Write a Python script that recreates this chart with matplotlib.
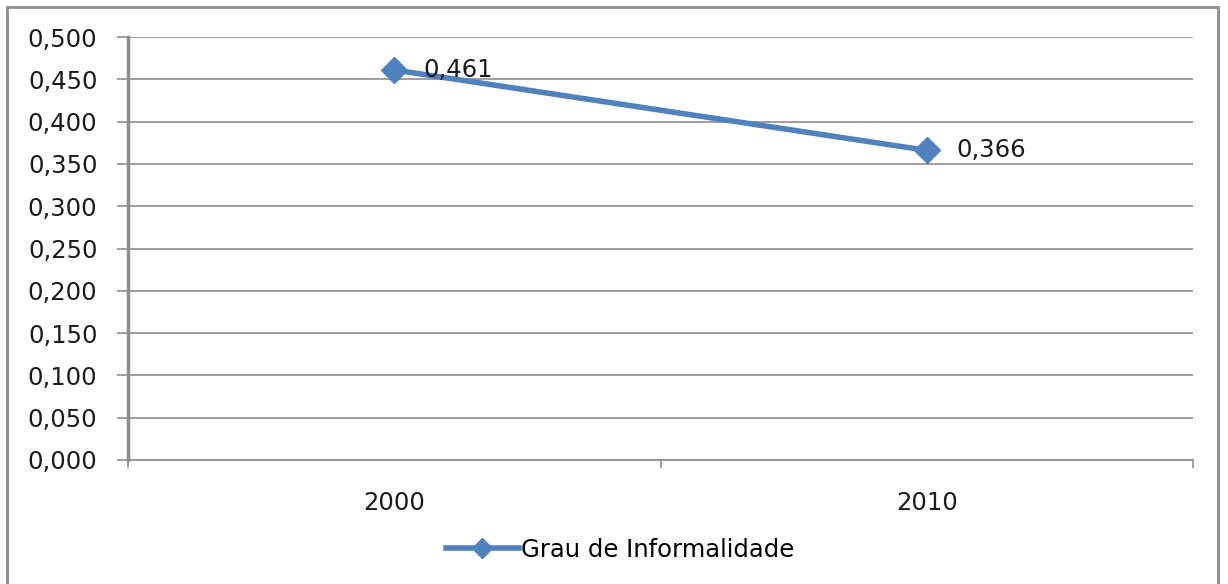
import matplotlib
matplotlib.use("Agg")
import matplotlib.pyplot as plt
from matplotlib import ticker
from matplotlib.patches import Rectangle

years = ['2000', '2010']
grau = [0.461, 0.366]
series_name = 'Grau de Informalidade'
y_ticks = [0.0, 0.05, 0.10, 0.15, 0.20, 0.25, 0.30, 0.35, 0.40, 0.45, 0.50]

blue = '#4f81bd'
grid_col = '#8c8c8c'
fs = 17.5

plt.rcParams['font.family'] = ['DejaVu Sans']

fig = plt.figure(figsize=(12.28, 5.84), dpi=100)
ax = fig.add_axes([128 / 1228, 1 - 460 / 584, (1193 - 128) / 1228, (460 - 37) / 584])

x = list(range(len(years)))
ax.plot(x, grau, color=blue, linewidth=4, marker='D', markersize=13,
        label=series_name, zorder=3)
for xi, v in zip(x, grau):
    ax.annotate(f"{v:.3f}".replace('.', ','), (xi, v), xytext=(21, 0),
                textcoords='offset points', fontsize=fs, va='center', ha='left',
                color='#1a1a1a', zorder=4)

ax.set_xlim(-0.5, len(years) - 0.5)
ax.set_ylim(0, 0.5)
ax.set_yticks(y_ticks)
ax.yaxis.set_major_formatter(ticker.FuncFormatter(lambda v, p: f"{v:.3f}".replace('.', ',')))
ax.set_xticks(x)
ax.set_xticklabels(years)
ax.set_xticks([-0.5, 0.5, 1.5], minor=True)
ax.tick_params(axis='x', which='major', length=0, pad=22, labelsize=fs, colors='#1a1a1a')
ax.tick_params(axis='x', which='minor', length=6, width=1.2, color=grid_col)
ax.tick_params(axis='y', length=8, width=1.2, color=grid_col, pad=14, labelsize=fs,
               labelcolor='#1a1a1a')
ax.yaxis.grid(True, color=grid_col, linewidth=1.2)
ax.set_axisbelow(True)
for side in ['top', 'right']:
    ax.spines[side].set_visible(False)
ax.spines['left'].set_color(grid_col)
ax.spines['left'].set_linewidth(2.5)
ax.spines['bottom'].set_color(grid_col)
ax.spines['bottom'].set_linewidth(1.2)

leg = fig.legend(loc='center', bbox_to_anchor=(620 / 1228, 1 - 550 / 584), frameon=False,
                 fontsize=fs, handlelength=3.0, handletextpad=0.1, markerscale=0.75)

fig.patches.append(Rectangle((7 / 1228, -0.01), (1218 - 7) / 1228, 1 - 7 / 584 + 0.01,
                             transform=fig.transFigure, fill=False,
                             edgecolor='#8c8c8c', linewidth=2))

plt.savefig('out.png', dpi=100)
